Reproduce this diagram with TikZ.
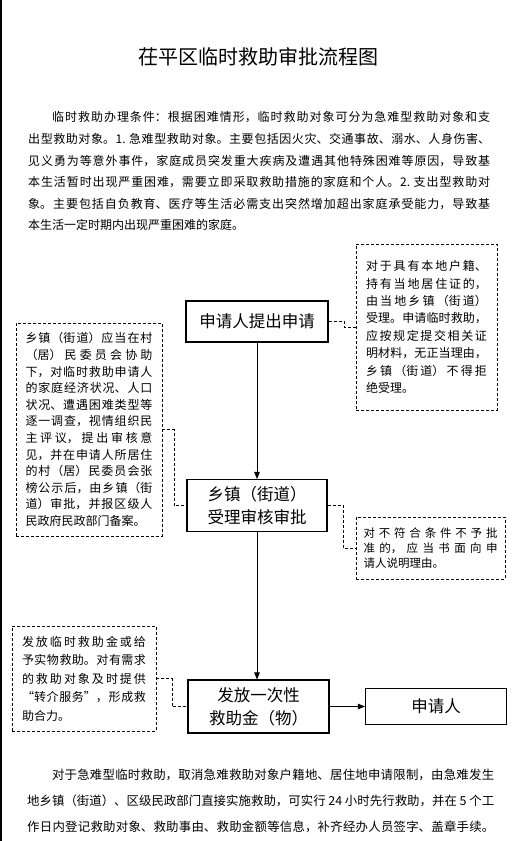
\documentclass[tikz,border=0pt]{standalone}
\usepackage{fontspec}
\setmainfont{Noto Sans CJK SC}
\usetikzlibrary{positioning}
\usetikzlibrary{arrows.meta}

\begin{document}
\begin{tikzpicture}[x=1pt,y=-1pt,
  flowbox/.style={draw, line width=1.1pt, inner sep=0pt, align=center, font=\fontsize{16.5}{23}\selectfont},
  notebox/.style={draw, dash pattern=on 3pt off 2pt, line width=0.8pt, inner ysep=0pt, align=justify},
  noteline/.style={dash pattern=on 3pt off 2pt, line width=0.8pt},
  flowarrow/.style={line width=0.8pt, -{Triangle[length=7pt,width=5.5pt]}}]
  % justified CJK text: break glue between characters
  \def\cjkjust{\XeTeXlinebreaklocale "zh"\XeTeXlinebreakskip=0pt plus 1fil minus 0.4pt\parfillskip=0pt plus 1fill\relax}
  \def\bodyfont#1#2{\fontsize{#1}{#2}\selectfont\cjkjust}

  \useasboundingbox (0,0) rectangle (515,841);
  \draw[line width=1.5pt] (0.75,0) -- (0.75,841);

  % title and conditions
  \node[font=\fontsize{20}{24}\selectfont] (title) at (258,57) {茌平区临时救助审批流程图};
  \node[anchor=north west, inner sep=0pt, text width=462pt, align=justify, font=\bodyfont{12}{21.6}] (cond) at (28,111.5) {\hspace*{2em}临时救助办理条件：根据困难情形，临时救助对象可分为急难型救助对象和支\linebreak
  出型救助对象。1. 急难型救助对象。主要包括因火灾、交通事故、溺水、人身伤害、\linebreak
  见义勇为等意外事件，家庭成员突发重大疾病及遭遇其他特殊困难等原因，导致基\linebreak
  本生活暂时出现严重困难，需要立即采取救助措施的家庭和个人。2. 支出型救助对\linebreak
  象。主要包括自负教育、医疗等生活必需支出突然增加超出家庭承受能力，导致基\linebreak
  本生活一定时期内出现严重困难的家庭。};

  % flow
  \node[flowbox, minimum width=142pt, minimum height=41pt] (apply) at (257,321.5) {申请人提出申请};
  \node[flowbox, minimum width=140pt, minimum height=52pt] (review) at (257,505.5) {乡镇（街道）\\受理审核审批};
  \node[flowbox, minimum width=141pt, minimum height=53pt] (grant) at (258.5,706.5) {发放一次性\\救助金（物）};
  \node[flowbox, minimum width=141pt, minimum height=36pt] (applicant) at (436,706.5) {申请人};

  \draw[flowarrow] (apply) -- (review);
  \draw[flowarrow] (review) -- (review |- grant.north);
  \draw[flowarrow] (grant) -- (applicant);

  % notes
  \node[notebox, text width=121pt, inner xsep=10pt, minimum height=166pt, font=\bodyfont{12}{17.4}] (accept) at (426.5,327) {对于具有本地户籍、\linebreak
  持有当地居住证的，\linebreak
  由当地乡镇（街道）\linebreak
  受理。申请临时救助，\linebreak
  应按规定提交相关证\linebreak
  明材料，无正当理由，\linebreak
  乡镇（街道）不得拒\linebreak
  绝受理。};
  \node[notebox, text width=127pt, inner xsep=9.5pt, minimum height=213pt, font=\bodyfont{12}{16.6}] (survey) at (89,429.5) {乡镇（街道）应当在村\linebreak
  （居）民委员会协助\linebreak
  下，对临时救助申请人\linebreak
  的家庭经济状况、人口\linebreak
  状况、遭遇困难类型等\linebreak
  逐一调查，视情组织民\linebreak
  主评议，提出审核意\linebreak
  见，并在申请人所居住\linebreak
  的村（居）民委员会张\linebreak
  榜公示后，由乡镇（街\linebreak
  道）审批，并报区级人\linebreak
  民政府民政部门备案。};
  \node[notebox, text width=134pt, inner xsep=7.5pt, minimum height=62pt, font=\bodyfont{11.5}{15}] (refuse) at (430.5,548) {对不符合条件不予批\linebreak
  准的，应当书面向申\linebreak
  请人说明理由。};
  \node[notebox, text width=124pt, inner xsep=10pt, minimum height=105pt, font=\bodyfont{12}{18.5}] (relief) at (84,678.5) {发放临时救助金或给\linebreak
  予实物救助。对有需求\linebreak
  的救助对象及时提供\linebreak
  “转介服务”，形成救\linebreak
  助合力。};

  \draw[noteline] (apply.east) -- ++(16,0) |- (accept.west);
  \draw[noteline] (survey.east) -- ++(12,0) |- (review.west);
  \draw[noteline] (review.east) -- ++(16,0) |- (refuse.west);
  \draw[noteline] (relief.east) -- ++(16,0) |- (grant.west);

  % urgent cases
  \node[anchor=north west, inner sep=0pt, text width=467pt, align=justify, font={\bodyfont{12.4}{26}\parfillskip=0pt}] (urgent) at (27,769) {\hspace*{2em}对于急难型临时救助，取消急难救助对象户籍地、居住地申请限制，由急难发生\linebreak
  地乡镇（街道）、区级民政部门直接实施救助，可实行 24 小时先行救助，并在 5 个工\linebreak
  作日内登记救助对象、救助事由、救助金额等信息，补齐经办人员签字、盖章手续。};
\end{tikzpicture}
\end{document}
